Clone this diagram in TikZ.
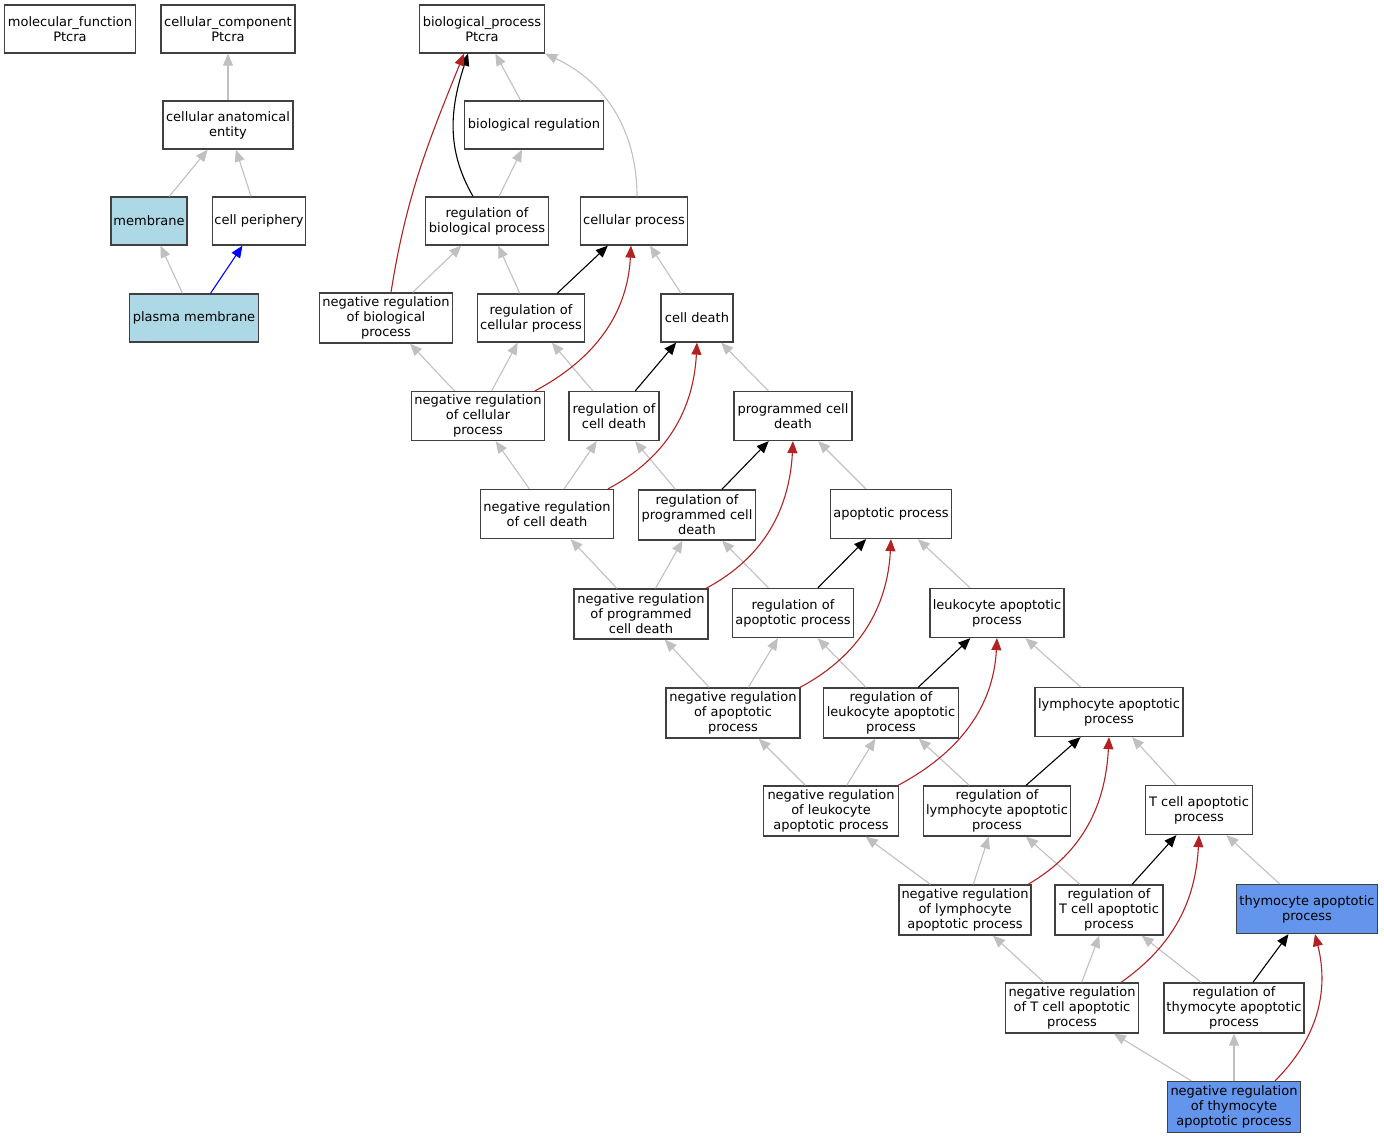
\documentclass[tikz,border=0pt]{standalone}
\usepackage{fontspec}
\setmainfont{DejaVu Sans}
\usetikzlibrary{arrows.meta}

\definecolor{isagray}{RGB}{192,192,192}
\definecolor{negred}{RGB}{178,34,34}
\definecolor{hitblue}{RGB}{173,216,230}
\definecolor{seedblue}{RGB}{100,149,237}

\tikzset{
  term/.style = {draw = black!75, line width = 1.3pt, fill = white, align = center,
                 inner sep = 0pt, font = \fontsize{13}{15}\selectfont},
  tip/.style = {-{Triangle[length = 12pt, width = 10pt]}},
  isa/.style = {tip, draw = isagray, line width = 1.1pt},
  partof/.style = {tip, draw = blue, line width = 1.1pt},
  regby/.style = {tip, draw = black, line width = 1.1pt},
  negreg/.style = {tip, draw = negred, line width = 1.1pt}
}

\begin{document}
\begin{tikzpicture}[x = 1pt, y = 1pt]
\useasboundingbox (0,0) rectangle (1384,-1139);

%roots
\node[term, minimum width = 131, minimum height = 48] (mf) at (70,-29) {molecular\_function\\Ptcra};
\node[term, minimum width = 134, minimum height = 48] (cc) at (228,-29) {cellular\_component\\Ptcra};
\node[term, minimum width = 125, minimum height = 48] (bp) at (482,-29) {biological\_process\\Ptcra};

%cellular component branch
\node[term, minimum width = 130, minimum height = 48] (cae) at (228,-125) {cellular anatomical\\entity};
\node[term, minimum width = 76, minimum height = 48, fill = hitblue] (mem) at (149,-221) {membrane};
\node[term, minimum width = 93, minimum height = 48] (cp) at (259,-221) {cell periphery};
\node[term, minimum width = 129, minimum height = 48, fill = hitblue] (pm) at (194,-318) {plasma membrane};

%biological process branch
\node[term, minimum width = 139, minimum height = 48] (breg) at (534,-125) {biological regulation};
\node[term, minimum width = 123, minimum height = 48] (rbp) at (487,-221) {regulation of\\biological process};
\node[term, minimum width = 107, minimum height = 48] (cellp) at (634,-221) {cellular process};
\node[term, minimum width = 133, minimum height = 50] (nrbp) at (386,-318) {negative regulation\\of biological\\process};
\node[term, minimum width = 107, minimum height = 48] (rcp) at (531,-318) {regulation of\\cellular process};
\node[term, minimum width = 72, minimum height = 48] (cd) at (697,-318) {cell death};
\node[term, minimum width = 133, minimum height = 49] (nrcp) at (478,-416) {negative regulation\\of cellular\\process};
\node[term, minimum width = 90, minimum height = 49] (rcd) at (614,-416) {regulation of\\cell death};
\node[term, minimum width = 118, minimum height = 49] (pcd) at (793,-416) {programmed cell\\death};
\node[term, minimum width = 133, minimum height = 49] (nrcd) at (547,-514) {negative regulation\\of cell death};
\node[term, minimum width = 117, minimum height = 50] (rpcd) at (697,-515) {regulation of\\programmed cell\\death};
\node[term, minimum width = 121, minimum height = 49] (ap) at (891,-514) {apoptotic process};
\node[term, minimum width = 134, minimum height = 50] (nrpcd) at (641,-614) {negative regulation\\of programmed\\cell death};
\node[term, minimum width = 121, minimum height = 49] (rap) at (793,-613) {regulation of\\apoptotic process};
\node[term, minimum width = 134, minimum height = 49] (lap) at (997,-613) {leukocyte apoptotic\\process};
\node[term, minimum width = 134, minimum height = 50] (nrap) at (733,-713) {negative regulation\\of apoptotic\\process};
\node[term, minimum width = 135, minimum height = 50] (rlap) at (891,-713) {regulation of\\leukocyte apoptotic\\process};
\node[term, minimum width = 148, minimum height = 49] (lyap) at (1109,-712) {lymphocyte apoptotic\\process};
\node[term, minimum width = 135, minimum height = 50] (nrlap) at (831,-811) {negative regulation\\of leukocyte\\apoptotic process};
\node[term, minimum width = 147, minimum height = 50] (rlyap) at (997,-811) {regulation of\\lymphocyte apoptotic\\process};
\node[term, minimum width = 107, minimum height = 49] (tap) at (1199,-810) {T cell apoptotic\\process};
\node[term, minimum width = 132, minimum height = 50] (nrlyap) at (965,-910) {negative regulation\\of lymphocyte\\apoptotic process};
\node[term, minimum width = 108, minimum height = 50] (rtap) at (1109,-910) {regulation of\\T cell apoptotic\\process};
\node[term, minimum width = 141, minimum height = 49, fill = seedblue] (thap) at (1307,-909) {thymocyte apoptotic\\process};
\node[term, minimum width = 133, minimum height = 50] (nrtap) at (1072,-1008) {negative regulation\\of T cell apoptotic\\process};
\node[term, minimum width = 140, minimum height = 50] (rthap) at (1234,-1008) {regulation of\\thymocyte apoptotic\\process};
\node[term, minimum width = 133, minimum height = 51, fill = seedblue] (nrthap) at (1234,-1107) {negative regulation\\of thymocyte\\apoptotic process};

%is_a edges
\foreach \a/\b in {cae/cc, mem/cae, cp/cae, pm/mem, breg/bp, rbp/breg, nrbp/rbp, rcp/rbp,
    cd/cellp, nrcp/nrbp, nrcp/rcp, rcd/rcp, pcd/cd, nrcd/nrcp, nrcd/rcd, rpcd/rcd, ap/pcd,
    nrpcd/nrcd, nrpcd/rpcd, rap/rpcd, lap/ap, nrap/nrpcd, nrap/rap, rlap/rap, lyap/lap,
    nrlap/nrap, nrlap/rlap, rlyap/rlap, tap/lyap, nrlyap/nrlap, nrlyap/rlyap, rtap/rlyap,
    thap/tap, nrtap/nrlyap, nrtap/rtap, rthap/rtap, nrthap/nrtap, nrthap/rthap}
  \draw[isa] (\a) -- (\b);
\draw[isa] ([xshift = 3]cellp.north) to[out = 90, in = -25] (bp.south east);

%part_of edge
\draw[partof] (pm) -- (cp);

%regulates edges
\foreach \a/\b in {rcp/cellp, rcd/cd, rpcd/pcd, rap/ap, rlap/lap, rlyap/lyap, rtap/tap, rthap/thap}
  \draw[regby] (\a) -- (\b);
\draw[regby] ([xshift = -14]rbp.north) to[out = 120, in = -108] ([xshift = -14]bp.south);

%negatively regulates edges
\draw[negreg] ([xshift = 5]nrbp.north) to[out = 81, in = -112] ([xshift = -18]bp.south);
\draw[negreg] ([xshift = 57]nrcp.north) to[out = 28, in = -93] ([xshift = -3]cellp.south);
\draw[negreg] ([xshift = 61]nrcd.north) to[out = 28, in = -93] (cd.south);
\draw[negreg] ([xshift = 65]nrpcd.north) to[out = 28, in = -93] (pcd.south);
\draw[negreg] ([xshift = 67]nrap.north) to[out = 28, in = -93] (ap.south);
\draw[negreg] ([xshift = 67]nrlap.north) to[out = 28, in = -93] (lap.south);
\draw[negreg] ([xshift = 63]nrlyap.north) to[out = 30, in = -93] (lyap.south);
\draw[negreg] ([xshift = 49]nrtap.north) to[out = 35, in = -93] (tap.south);
\draw[negreg] ([xshift = 41]nrthap.north) to[out = 45, in = -76] ([xshift = 8]thap.south);

\end{tikzpicture}
\end{document}
